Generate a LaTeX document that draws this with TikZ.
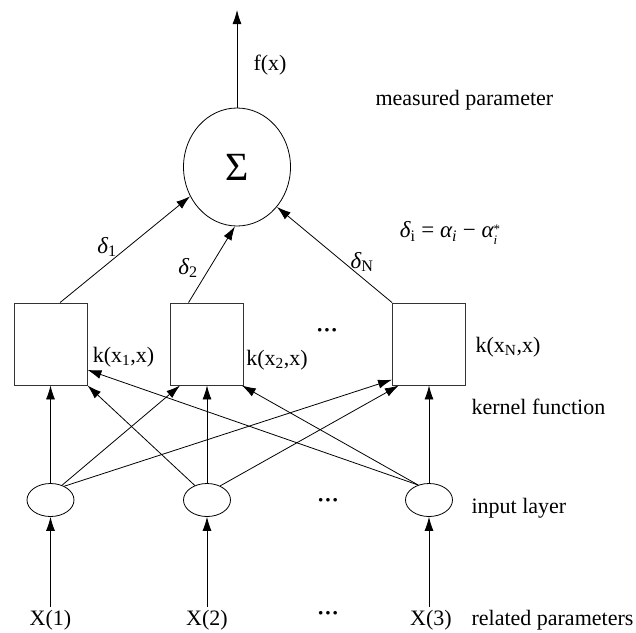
\documentclass[tikz,border=0pt]{standalone}
\usepackage{amsmath}
\usepackage{fontspec}
\setmainfont{Liberation Serif}
\usepackage{tikz}
\usetikzlibrary{positioning}
\usetikzlibrary{shapes.geometric}
\usetikzlibrary{arrows.meta}

\newcommand{\gr}[1]{{\itshape #1}}
\newcommand{\supsub}[2]{\raisebox{-0.32em}{\fontsize{13}{11}\selectfont\shortstack[l]{#1\\#2}}}

\begin{document}
\begin{tikzpicture}[
            x = 1pt, y = -1pt,
            every node/.style = {font=\fontsize{22}{26}\selectfont},
            kernel/.style = {
                draw = black!80,
                rectangle,
                minimum width = 73pt,
                minimum height = 82pt,
                inner sep = 0pt,
                line width = 0.9pt
            },
            input/.style = {
                draw,
                ellipse,
                minimum width = 47pt,
                minimum height = 33pt,
                inner sep = 0pt,
                line width = 0.8pt
            },
            sumnode/.style = {
                draw,
                ellipse,
                minimum width = 107pt,
                minimum height = 118pt,
                inner sep = 0pt,
                line width = 0.8pt,
                font = \fontsize{40}{44}\selectfont
            },
            arr/.style = {
                line width = 0.8pt,
                -{Latex[length=14pt, width=9pt]}
            },
            weight/.style = {font=\fontsize{23}{26}\selectfont},
            dots/.style = {font=\fontsize{22}{26}\selectfont\bfseries}
            ]
            \useasboundingbox (0,0) rectangle (636,632);

            % output layer
            \node[sumnode] (sum) at (237,167) {Σ};
            \coordinate (out) at (237,10);
            \draw[arr] (sum.north) -- (out);
            \node at (270,65) (fx) {f(x)};
            \node[anchor=west] at (372,100) (meas) {measured parameter};

            % kernel layer
            \node[kernel] (k1) at (50.5,344) {};
            \node[kernel] (k2) at (207,344) {};
            \node[kernel] (k3) at (429,344) {};
            \node at (123.5,357) (l1) {k(x\textsubscript{1},x)};
            \node at (277,360) (l2) {k(x\textsubscript{2},x)};
            \node at (508,347) (l3) {k(x\textsubscript{N},x)};
            \node[dots] at (327,333) (kdots) {···};
            \node[anchor=west] at (468,407) (kern) {kernel function};

            \draw[arr] (k1.77) -- (sum.212);
            \draw[arr] (k2.114) -- (sum.268);
            \draw[arr] (k3.north west) -- (sum.315);
            \node[weight] at (107,247) (d1) {\gr{δ}\textsubscript{1}};
            \node[weight] at (188,268) (d2) {\gr{δ}\textsubscript{2}};
            \node[weight] at (362,262) (dN) {\gr{δ}\textsubscript{N}};
            \node[weight] at (450,233) (deq) {\gr{δ}\textsubscript{i} = \gr{α}\textsubscript{\gr{i}} − \gr{α}\supsub{*}{\gr{i}}};

            % input layer
            \node[input] (e1) at (50.5,500) {};
            \node[input] (e2) at (207,500) {};
            \node[input] (e3) at (429,500) {};
            \node[dots] at (328,503) (edots) {···};
            \node[anchor=west] at (468,508) (inl) {input layer};

            \draw[arr] (e1.north) -- (k1.south);
            \draw[arr] (e1.52) -- (k2.237);
            \draw[arr] (e1.45) -- (k3.224);
            \draw[arr] (e2.130) -- (k1.south east);
            \draw[arr] (e2.north) -- (k2.south);
            \draw[arr] (e2.47) -- (k3.234);
            \draw[arr] (e3.126) -- (k1.-35);
            \draw[arr] (e3.126) -- (k2.-50);
            \draw[arr] (e3.north) -- (k3.south);

            % related parameters
            \node at (50.5,620) (x1) {X(1)};
            \node at (207,620) (x2) {X(2)};
            \node at (431,620) (x3) {X(3)};
            \node[dots] at (328,616) (xdots) {···};
            \node[anchor=west] at (468,620) (rel) {related parameters};
            \draw[arr] (x1.north) -- (e1.south);
            \draw[arr] (x2.north) -- (e2.south);
            \draw[arr] (x3.north -| e3.south) -- (e3.south);
\end{tikzpicture}
\end{document}
